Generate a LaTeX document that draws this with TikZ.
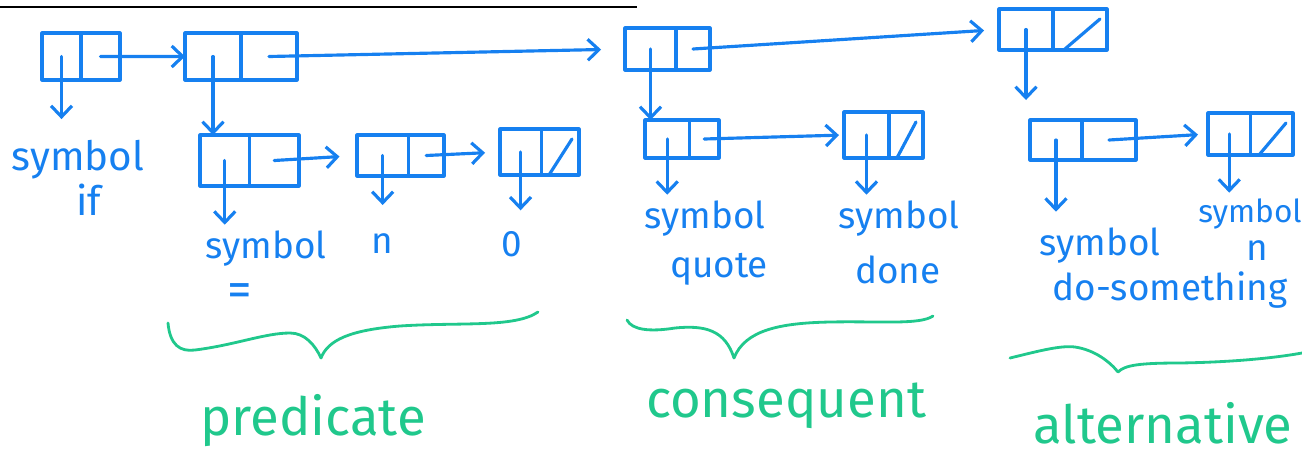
\documentclass[tikz,border=0pt]{standalone}
\usepackage{fontspec}
\setmainfont{Fira Sans}
\usetikzlibrary{arrows.meta,calc}

\definecolor{inkblue}{RGB}{22,128,240}
\definecolor{inkgreen}{RGB}{32,200,140}

\tikzset{
  ink/.style={line width=1.8pt, line cap=round, line join=round},
  cellbox/.style={draw=inkblue, ink, rectangle, inner sep=0pt, outer sep=0pt},
  divider/.style={draw=inkblue, ink},
  ptr/.style={draw=inkblue, ink, -{Straight Barb[length=0.22cm,width=0.42cm,line width=1.8pt]}},
  lbl/.style={text=inkblue, font=\fontsize{21}{24}\selectfont, inner sep=3pt, anchor=base},
  biglbl/.style={lbl, font=\fontsize{23}{26}\selectfont},
  smalllbl/.style={lbl, font=\fontsize{18}{21}\selectfont},
  tag/.style={text=inkgreen, font=\fontsize{30}{34}\selectfont, anchor=base},
  brace/.style={draw=inkgreen, line width=1.6pt, line cap=round, line join=round},
}

% a cons cell: name, x, y, width (cm), height (cm), position of the divider
\newcommand\conscell[6]{%
  \node[cellbox, minimum width=#4cm, minimum height=#5cm] (#1) at (#2,#3) {};
  \draw[divider] ($(#1.north west)!#6!(#1.north east)$) -- ($(#1.south west)!#6!(#1.south east)$);
  \coordinate (#1-car) at ($(#1.west)!{0.5*#6}!(#1.east)$);
  \coordinate (#1-cdr) at ($(#1.west)!{0.5+0.5*#6}!(#1.east)$);
}
% slash through the cdr half of a cell that ends a list
\newcommand\nilmark[2]{%
  \draw[divider] ($(#1.south west)!{#2+0.1}!(#1.south east)$) -- ($(#1.north east)+(-7,10)$);
}

\begin{document}
\begin{tikzpicture}[x=0.02cm, y=-0.02cm]
\useasboundingbox (0,0) rectangle (1302,471);

% rule at the top
\draw[black, line width=1.2pt] (0,7) -- (637,7);

% cells
\conscell{A}{81}{56.5}{1.56}{0.94}{0.5}
\conscell{B}{241}{56.5}{2.24}{0.94}{0.5}
\conscell{C}{249.5}{160.5}{1.98}{1.02}{0.5}
\conscell{F}{400.5}{155.5}{1.74}{0.82}{0.59}
\conscell{H}{539.5}{152}{1.58}{0.92}{0.52}
\conscell{D}{667.5}{49}{1.70}{0.84}{0.6}
\conscell{E}{1053}{29.5}{2.16}{0.82}{0.5}
\conscell{G}{682}{139}{1.48}{0.76}{0.6}
\conscell{I}{883.5}{135}{1.58}{0.92}{0.57}
\conscell{J}{1083}{140}{2.12}{0.80}{0.49}
\conscell{K}{1250.5}{134}{1.70}{0.84}{0.5}
\nilmark{H}{0.52}
\nilmark{E}{0.5}
\nilmark{I}{0.57}
\nilmark{K}{0.5}

% symbols
\node[biglbl] (Asym) at (78,170) {symbol};
\node[biglbl] (Aif) at (89,215) {if};
\node[lbl] (Csym) at (266,258) {symbol};
\node[lbl, font=\fontsize{28}{30}\selectfont] (Ceq) at (240,306) {=};
\node[lbl] (Fn) at (382,253) {n};
\node[lbl] (H0) at (512,256) {0};
\node[lbl] (Gsym) at (705,228) {symbol};
\node[lbl] (Gq) at (719,277) {quote};
\node[lbl] (Isym) at (899,228) {symbol};
\node[lbl] (Idone) at (898,283) {done};
\node[lbl] (Jsym) at (1100,255) {symbol};
\node[lbl] (Jdo) at (1170,300) {do-something};
\node[smalllbl] (Ksym) at (1250,222) {symbol};
\node[lbl] (Kn) at (1257,260) {n};

% cdr pointers
\draw[ptr] (A-cdr) -- (B.west);
\draw[ptr, shorten >=0.48cm] (B-cdr) -- (D.west);
\draw[ptr, shorten >=0.3cm] (D-cdr) -- (E.west);
\draw[ptr, shorten >=0.35cm] (C-cdr) -- (F.west);
\draw[ptr, shorten >=0.3cm] (F-cdr) -- (H.west);
\draw[ptr, shorten >=0.1cm] (G-cdr) -- (I.west);
\draw[ptr, shorten >=0.2cm] (J-cdr) -- (K.west);

% car pointers
\draw[ptr, shorten >=0.3cm] (A-car) -- (A-car |- Asym.north);
\draw[ptr] (B-car) -- (B-car |- C.north);
\draw[ptr] (C-car) -- (C-car |- Csym.north);
\draw[ptr, shorten >=0.45cm] (F-car) -- (F-car |- Fn.north);
\draw[ptr, shorten >=0.3cm] (H-car) -- (H-car |- H0.north);
\draw[ptr] (D-car) -- (D-car |- G.north);
\draw[ptr] (G-car) -- (G-car |- Gsym.north);
\draw[ptr] (I-car) -- (I-car |- Isym.north);
\draw[ptr, shorten >=0.4cm] (E-car) -- (E-car |- J.north);
\draw[ptr, shorten >=0.2cm] (J-car) -- (J-car |- Jsym.north);
\draw[ptr] (K-car) -- (K-car |- Ksym.north);

% braces
\draw[brace] (168,323) .. controls (170,345) and (180,352) .. (195,350)
  .. controls (235,345) and (265,333) .. (290,333)
  .. controls (305,333) and (315,345) .. (321,358)
  .. controls (328,340) and (350,330) .. (400,326)
  .. controls (460,322) and (515,328) .. (538,312);
\draw[brace] (627,320) .. controls (632,330) and (650,332) .. (675,328)
  .. controls (705,325) and (725,330) .. (734,358)
  .. controls (745,330) and (780,323) .. (830,322)
  .. controls (880,321) and (920,325) .. (933,316);
\draw[brace] (1010,358) .. controls (1035,352) and (1060,345) .. (1075,347)
  .. controls (1095,350) and (1110,362) .. (1118,372)
  .. controls (1125,365) and (1140,363) .. (1180,363)
  .. controls (1240,362) and (1280,357) .. (1302,353);

% group names
\node[tag] (pred) at (313,435) {predicate};
\node[tag] (cons) at (786,417) {consequent};
\node[tag] (alt) at (1163,443) {alternative};
\end{tikzpicture}
\end{document}
